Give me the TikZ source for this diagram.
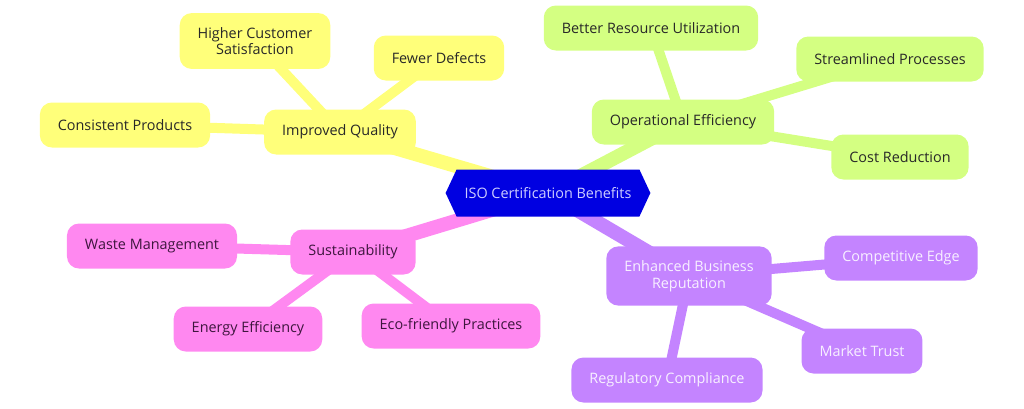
\documentclass[tikz,border=0pt]{standalone}
\usepackage{fontspec}
\setmainfont{Open Sans}
\usetikzlibrary{shapes.symbols,backgrounds}

\definecolor{rootblue}{RGB}{0,0,225}
\definecolor{roottext}{RGB}{205,205,255}
\definecolor{qualyellow}{RGB}{255,255,122}
\definecolor{effgreen}{RGB}{212,255,130}
\definecolor{sustpink}{RGB}{255,136,240}
\definecolor{reppurple}{RGB}{196,132,255}
\definecolor{darktext}{RGB}{40,40,40}
\definecolor{pinktext}{RGB}{62,22,62}
\definecolor{lighttext}{RGB}{248,240,255}

\tikzset{
  topic/.style={rounded corners=6pt,inner xsep=9pt,inner ysep=7pt,minimum height=22.5pt,align=center,font=\fontsize{7.2}{8.4}\selectfont},
  quality/.style={topic,fill=qualyellow,text=darktext},
  efficiency/.style={topic,fill=effgreen,text=darktext},
  sustain/.style={topic,fill=sustpink,text=pinktext},
  reputation/.style={topic,fill=reppurple,text=lighttext},
  mainlink/.style={line width=7pt},
  sublink/.style={line width=5pt}
}

\begin{document}
\begin{tikzpicture}[x=0.5pt,y=-0.5pt]
    \useasboundingbox (0,0) rectangle (1024,408);
    % root
    \node[signal,signal to=west and east,signal pointer angle=130,fill=rootblue,text=roottext,
          inner xsep=4pt,minimum height=23.5pt,font=\fontsize{7.2}{8.4}\selectfont] (root) at (548,193) {ISO Certification Benefits};
    % quality branch
    \node[quality] (quality) at (340,132) {Improved Quality};
    \node[quality] (satisfaction) at (255,41) {Higher Customer\\Satisfaction};
    \node[quality] (defects) at (439,58) {Fewer Defects};
    \node[quality] (consistent) at (125,125) {Consistent Products};
    % efficiency branch
    \node[efficiency] (efficiency) at (683,122) {Operational Efficiency};
    \node[efficiency] (resource) at (651,28) {Better Resource Utilization};
    \node[efficiency] (streamlined) at (890,59) {Streamlined Processes};
    \node[efficiency] (cost) at (900,157) {Cost Reduction};
    % sustainability branch
    \node[sustain] (sustain) at (353,252) {Sustainability};
    \node[sustain] (waste) at (152,246) {Waste Management};
    \node[sustain] (energy) at (248,329) {Energy Efficiency};
    \node[sustain] (eco) at (451,326) {Eco-friendly Practices};
    % reputation branch
    \node[reputation] (reputation) at (689,276) {Enhanced Business\\Reputation};
    \node[reputation] (edge) at (901,258) {Competitive Edge};
    \node[reputation] (trust) at (862,351) {Market Trust};
    \node[reputation] (compliance) at (667,380) {Regulatory Compliance};
    % links
    \begin{scope}[on background layer]
        \draw[mainlink,qualyellow] (root.center) -- (quality.center);
        \draw[sublink,qualyellow] (quality.center) -- (satisfaction.center);
        \draw[sublink,qualyellow] (quality.center) -- (defects.center);
        \draw[sublink,qualyellow] (quality.center) -- (consistent.center);
        \draw[mainlink,effgreen] (root.center) -- (efficiency.center);
        \draw[sublink,effgreen] (efficiency.center) -- (resource.center);
        \draw[sublink,effgreen] (efficiency.center) -- (streamlined.center);
        \draw[sublink,effgreen] (efficiency.center) -- (cost.center);
        \draw[mainlink,sustpink] (root.center) -- (sustain.center);
        \draw[sublink,sustpink] (sustain.center) -- (waste.center);
        \draw[sublink,sustpink] (sustain.center) -- (energy.center);
        \draw[sublink,sustpink] (sustain.center) -- (eco.center);
        \draw[mainlink,reppurple] (root.center) -- (reputation.center);
        \draw[sublink,reppurple] (reputation.center) -- (edge.center);
        \draw[sublink,reppurple] (reputation.center) -- (trust.center);
        \draw[sublink,reppurple] (reputation.center) -- (compliance.center);
    \end{scope}
\end{tikzpicture}
\end{document}
